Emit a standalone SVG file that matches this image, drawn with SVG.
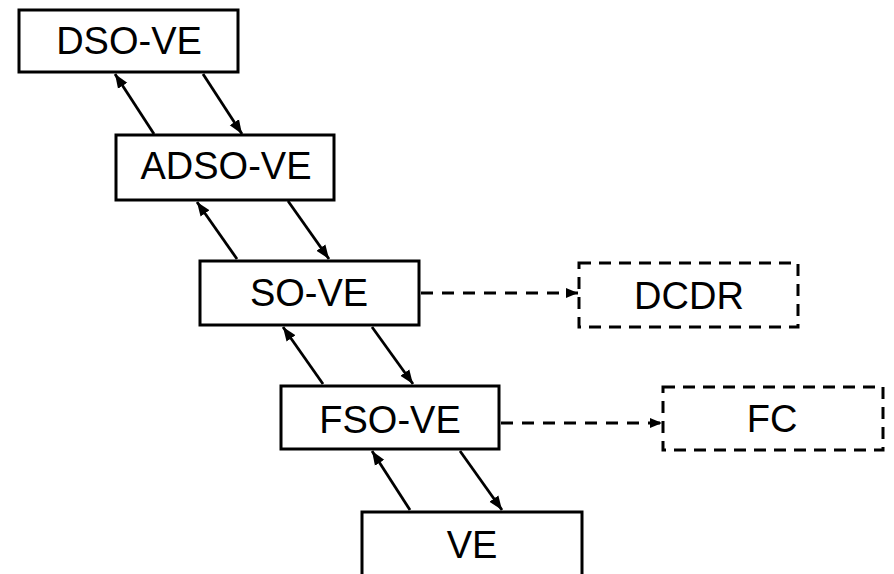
<svg xmlns="http://www.w3.org/2000/svg" width="894" height="574" viewBox="0 0 894 574">
<style>
.box{fill:#fff;stroke:#000;stroke-width:3}
.dbox{fill:#fff;stroke:#000;stroke-width:3;stroke-dasharray:12 8}
.lbl{font-family:"Liberation Sans",Arial,sans-serif;font-size:38px;fill:#000;text-anchor:middle}
.arr{stroke:#000;stroke-width:2.8;fill:none;marker-end:url(#ah)}
.darr{stroke:#000;stroke-width:2.8;fill:none;stroke-dasharray:12 9;marker-end:url(#dh)}
</style>
<defs>
<marker id="ah" markerUnits="userSpaceOnUse" markerWidth="15" markerHeight="12" refX="14" refY="6" orient="auto">
<path d="M0,0.5 L14,6 L0,11.5 Z" fill="#000"/>
</marker>
<marker id="dh" markerUnits="userSpaceOnUse" markerWidth="13" markerHeight="11" refX="12" refY="5.5" orient="auto">
<path d="M0,0.5 L12,5.5 L0,10.5 Z" fill="#000"/>
</marker>
</defs>
<g id="connectors">
<line class="arr" x1="154" y1="134" x2="115" y2="74"/>
<line class="arr" x1="203" y1="74" x2="242" y2="134"/>
<line class="arr" x1="237" y1="259" x2="197" y2="202"/>
<line class="arr" x1="288" y1="201" x2="329" y2="259"/>
<line class="arr" x1="323" y1="384" x2="283" y2="327"/>
<line class="arr" x1="372" y1="327" x2="413" y2="384"/>
<line class="arr" x1="410" y1="510" x2="372" y2="451"/>
<line class="arr" x1="460" y1="451" x2="502" y2="510"/>
<line class="darr" x1="421" y1="293" x2="578" y2="293"/>
<line class="darr" x1="501" y1="423" x2="662" y2="423"/>
</g>
<g id="dso-ve">
<rect class="box" x="19" y="10" width="219" height="62"/>
<text class="lbl" x="129" y="53.5">DSO-VE</text>
</g>
<g id="adso-ve">
<rect class="box" x="116" y="135" width="218" height="65"/>
<text class="lbl" x="226" y="178.5">ADSO-VE</text>
</g>
<g id="so-ve">
<rect class="box" x="200" y="261" width="219" height="64"/>
<text class="lbl" x="309" y="305.5">SO-VE</text>
</g>
<g id="fso-ve">
<rect class="box" x="281" y="386" width="218" height="63"/>
<text class="lbl" x="390" y="432.5">FSO-VE</text>
</g>
<g id="ve">
<rect class="box" x="362" y="512" width="220" height="80"/>
<text class="lbl" x="472" y="557.5">VE</text>
</g>
<g id="dcdr">
<rect class="dbox" x="579" y="263" width="219" height="64"/>
<text class="lbl" x="689" y="308.5">DCDR</text>
</g>
<g id="fc">
<rect class="dbox" x="663" y="387" width="220" height="63"/>
<text class="lbl" x="772" y="431.5">FC</text>
</g>
</svg>
